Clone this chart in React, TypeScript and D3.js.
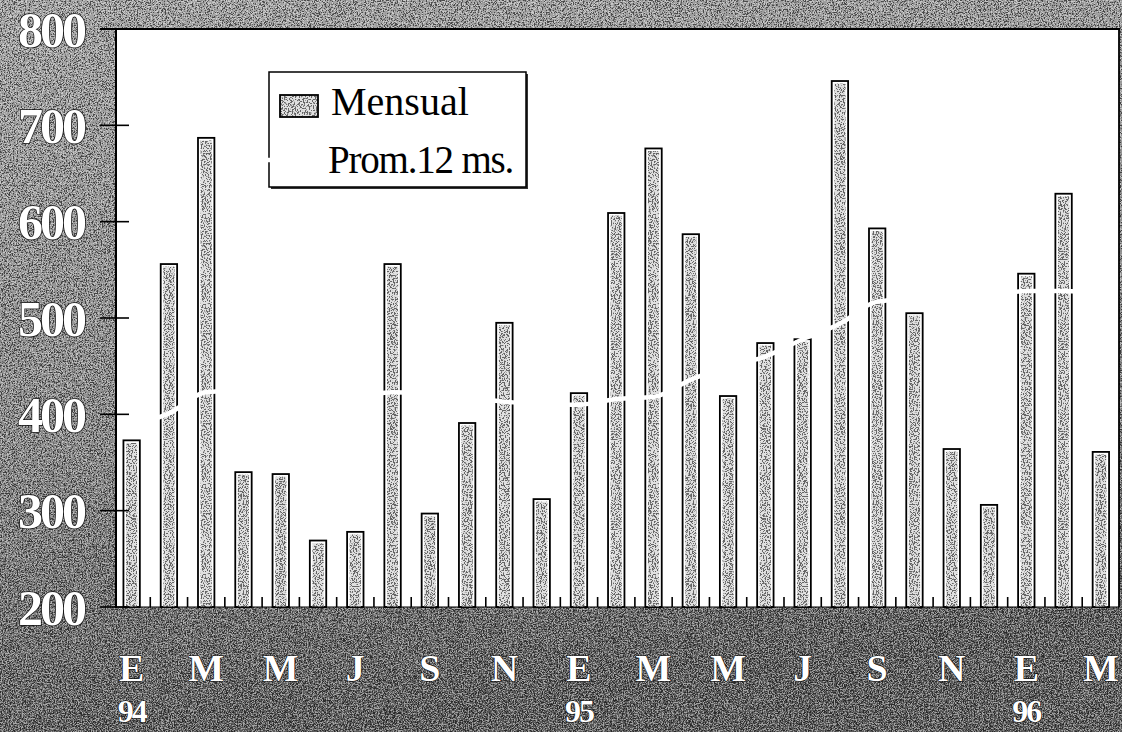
import React from "react";
import * as d3 from "d3";

// ---- data ----
const months = [
  "Ene94", "Feb94", "Mar94", "Abr94", "May94", "Jun94", "Jul94", "Ago94", "Sep94", "Oct94", "Nov94", "Dic94",
  "Ene95", "Feb95", "Mar95", "Abr95", "May95", "Jun95", "Jul95", "Ago95", "Sep95", "Oct95", "Nov95", "Dic95",
  "Ene96", "Feb96", "Mar96",
];
const mensual = [
  373, 556, 687, 340, 338, 269, 278, 556, 297, 391, 495, 312,
  422, 609, 676, 587, 419, 474, 478, 746, 593, 505, 364, 306,
  546, 629, 361,
];
const prom12 = [
  388, 401, 423, 425, 424, 421, 419, 423, 421, 418, 413, 411,
  410, 416, 418, 436, 450, 460, 478, 494, 517, 520, 522, 524,
  528, 528, 526,
];
const yTicks = [200, 300, 400, 500, 600, 700, 800];
const xLabelMonths = ["Ene94", "Mar94", "May94", "Jul94", "Sep94", "Nov94", "Ene95", "Mar95", "May95", "Jul95", "Sep95", "Nov95", "Ene96", "Mar96"];
const xLabelTexts = ["E", "M", "M", "J", "S", "N", "E", "M", "M", "J", "S", "N", "E", "M"];
const yearMonths = ["Ene94", "Ene95", "Ene96"];
const yearTexts = ["94", "95", "96"];
const legendLabels = ["Mensual", "Prom.12 ms."];

export default function App() {
  const W = 1122;
  const H = 732;
  const plotL = 116;
  const plotR = 1119;
  const plotT = 29;
  const plotB = 607;

  const y = d3.scaleLinear().domain([200, 800]).range([plotB, plotT]);
  const x = d3.scaleBand<string>().domain(months).range([113, 1119.5]).paddingInner(0).paddingOuter(0);
  const bw = x.bandwidth();
  const barW = bw * 0.44;
  const cx = (m: string) => (x(m) as number) + bw / 2;

  const line = d3
    .line<number>()
    .x((_, i) => cx(months[i]))
    .y((d) => y(d))
    .curve(d3.curveMonotoneX);

  const serif = "'Liberation Serif', 'DejaVu Serif', serif";

  return (
    <>
      <style>{`body{margin:0;background:#fff}`}</style>
      <svg width={W} height={H} style={{ display: "block" }} xmlns="http://www.w3.org/2000/svg">
        <defs>
          <linearGradient id="bgGrad" x1="0" y1="0" x2="0.2" y2="1">
            <stop offset="0" stopColor="#a8a8a8" />
            <stop offset="0.6" stopColor="#8a8a8a" />
            <stop offset="1" stopColor="#5a5a5a" />
          </linearGradient>
          <filter id="darkSpeck" x="0" y="0" width="1" height="1">
            <feTurbulence type="fractalNoise" baseFrequency="0.75" numOctaves="2" seed="4" stitchTiles="stitch" />
            <feColorMatrix type="matrix" values="0 0 0 0 0  0 0 0 0 0  0 0 0 0 0  14 0 0 0 -7.1" />
          </filter>
          <filter id="lightSpeck" x="0" y="0" width="1" height="1">
            <feTurbulence type="fractalNoise" baseFrequency="0.8" numOctaves="2" seed="11" stitchTiles="stitch" />
            <feColorMatrix type="matrix" values="0 0 0 0 1  0 0 0 0 1  0 0 0 0 1  14 0 0 0 -7.3" />
          </filter>
          <pattern id="barPat" patternUnits="userSpaceOnUse" width="90" height="90">
            <rect width="90" height="90" fill="#e0e0e0" />
            <rect width="90" height="90" fill="#000" filter="url(#darkSpeck)" opacity="0.55" />
          </pattern>
        </defs>

        {/* noisy gray surround */}
        <rect x={0} y={0} width={W} height={H} fill="url(#bgGrad)" />
        <rect x={0} y={0} width={W} height={H} fill="#000" filter="url(#darkSpeck)" opacity="0.55" />
        <rect x={0} y={0} width={W} height={H} fill="#fff" filter="url(#lightSpeck)" opacity="0.45" />

        {/* plot area */}
        <rect x={plotL} y={plotT} width={plotR - plotL} height={plotB - plotT} fill="#fff" />

        {/* bars */}
        {mensual.map((v, i) => {
          const bx = cx(months[i]) - barW / 2;
          const top = y(v);
          return (
            <g key={months[i]}>
              <rect x={bx} y={top} width={barW} height={plotB - top} fill="#fff" stroke="#000" strokeWidth={1.8} />
              <rect x={bx + 2.6} y={top + 2.6} width={barW - 5.2} height={Math.max(0, plotB - top - 2.6)} fill="url(#barPat)" />
            </g>
          );
        })}

        {/* 12-month average (white line) */}
        <path d={line(prom12) || ""} fill="none" stroke="#fff" strokeWidth={4.5} />

        {/* frame */}
        <line x1={100} x2={plotR + 1} y1={plotT} y2={plotT} stroke="#000" strokeWidth={1.8} />
        <line x1={plotL} x2={plotL} y1={plotT} y2={plotB + 1} stroke="#000" strokeWidth={2} />
        <line x1={plotR} x2={plotR} y1={plotT} y2={plotB} stroke="#000" strokeWidth={1.8} />
        <line x1={plotL} x2={plotR} y1={plotB} y2={plotB} stroke="#000" strokeWidth={1.2} />

        {/* y ticks */}
        {yTicks.map((t) => (
          <line key={t} x1={100} x2={129} y1={y(t)} y2={y(t)} stroke="#000" strokeWidth={1.6} />
        ))}
        {/* x ticks between months */}
        {months.slice(1).map((m) => (
          <line key={m} x1={x(m) as number} x2={x(m) as number} y1={plotB - 10} y2={plotB} stroke="#000" strokeWidth={1.6} />
        ))}

        {/* y labels */}
        {yTicks.map((t) => (
          <text
            key={t}
            x={84}
            y={y(t)}
            dy="0.35em"
            textAnchor="end"
            fontFamily={serif}
            fontWeight="bold"
            fontSize={50}
            letterSpacing={-3}
            fill="#fff"
            stroke="#111"
            strokeWidth={1.5}
            paintOrder="stroke"
          >
            {t}
          </text>
        ))}

        {/* x labels */}
        {xLabelMonths.map((m, i) => (
          <text
            key={m}
            x={cx(m)}
            y={681}
            textAnchor="middle"
            fontFamily={serif}
            fontWeight="bold"
            fontSize={38}
            fill="#fff"
            stroke="#111"
            strokeWidth={1.2}
            paintOrder="stroke"
          >
            {xLabelTexts[i]}
          </text>
        ))}
        {yearMonths.map((m, i) => (
          <text
            key={m}
            x={cx(m)}
            y={722}
            textAnchor="middle"
            fontFamily={serif}
            fontWeight="bold"
            fontSize={32}
            letterSpacing={-2}
            fill="#fff"
            stroke="#111"
            strokeWidth={1.2}
            paintOrder="stroke"
          >
            {yearTexts[i]}
          </text>
        ))}

        {/* legend */}
        <rect x={271} y={74} width={257} height={115} fill="#333" />
        <rect x={269} y={72} width={257} height={115} fill="#fff" stroke="#000" strokeWidth={1.5} />
        <rect x={280} y={95} width={38} height={22} fill="url(#barPat)" stroke="#000" strokeWidth={1.8} />
        <line x1={262} x2={322} y1={160} y2={160} stroke="#fff" strokeWidth={4.5} />
        <text x={331} y={115} fontFamily={serif} fontSize={40} fill="#000">
          {legendLabels[0]}
        </text>
        <text x={328} y={173} fontFamily={serif} fontSize={39} letterSpacing={-1.2} fill="#000">
          {legendLabels[1]}
        </text>
      </svg>
    </>
  );
}
